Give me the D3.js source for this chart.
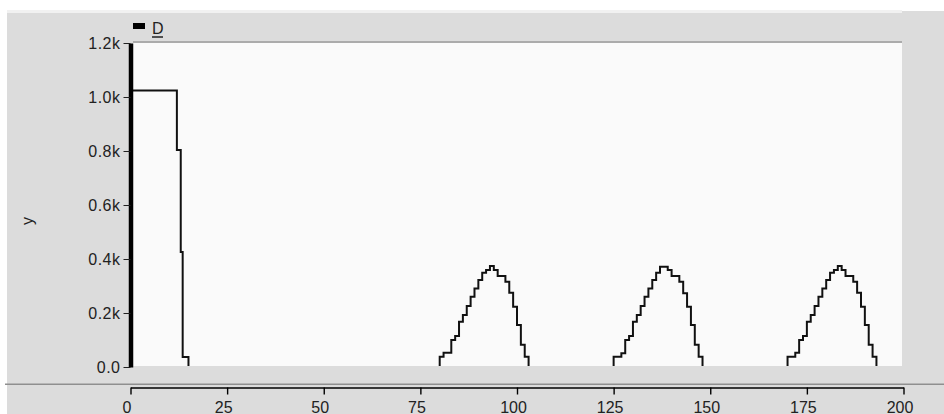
<!DOCTYPE html>
<html>
<head>
<meta charset="utf-8">
<script src="https://cdn.jsdelivr.net/npm/d3@7"></script>
<style>
  body { margin: 0; background: #fff; }
  svg { display: block; font-family: "Liberation Sans", Arial, sans-serif; }
</style>
</head>
<body>
<div class="chart"></div>
<script>
// start drop: step positions and levels
const dropX = [0, 12, 13, 13.5, 15];
const dropY = [1024, 804, 426, 37, 0];

// three humps, one value per unit step from their start
const humpStarts = [80, 125, 170];
const hump1 = [38, 53, 53, 100, 115, 168, 193, 226, 260, 291, 322, 349, 359, 374, 359, 337, 337, 316, 275, 223, 156, 82, 38];
const hump2 = [38, 38, 51, 100, 115, 168, 193, 226, 260, 291, 322, 349, 371, 371, 359, 337, 337, 316, 273, 223, 156, 82, 38];
const hump3 = [38, 38, 53, 100, 115, 168, 193, 226, 260, 291, 322, 349, 359, 374, 359, 337, 337, 316, 275, 223, 156, 82, 38];

const xTicks = [0, 25, 50, 75, 100, 125, 150, 175, 200];
const yTicks = [0, 200, 400, 600, 800, 1000, 1200];
const seriesName = 'D';

const W = 944, H = 414;
const plot = {left: 130.5, right: 903.5, top: 43, bottom: 367};

const svg = d3.select('.chart')
    .append('svg')
    .attr('width', W)
    .attr('height', H);

// window-ish panels
svg.append('rect')
    .attr('x', 7).attr('y', 11)
    .attr('width', W - 7).attr('height', H - 11)
    .attr('fill', '#dcdcdc');
svg.append('rect')
    .attr('x', 7).attr('y', 10)
    .attr('width', 895).attr('height', 3)
    .attr('fill', '#f1f1f1');
svg.append('rect')
    .attr('x', 133).attr('y', 41)
    .attr('width', 769).attr('height', 2)
    .attr('fill', '#ababab');
svg.append('rect')
    .attr('x', 133).attr('y', 43)
    .attr('width', 769).attr('height', 323)
    .attr('fill', '#fafafa');
svg.append('rect')
    .attr('x', 5).attr('y', 383.5)
    .attr('width', W - 5).attr('height', 1.5)
    .attr('fill', '#8f8f8f');

const xScale = d3.scaleLinear()
    .domain([0, 200])
    .range([plot.left, plot.right]);

const yScale = d3.scaleLinear()
    .domain([0, 1200])
    .range([plot.bottom, plot.top]);

// build the step points
let points = dropX.map((x, i) => [x, dropY[i]]);
[hump1, hump2, hump3].forEach((h, k) => {
    h.forEach((v, i) => points.push([humpStarts[k] + i, v]));
    points.push([humpStarts[k] + h.length, 0]);
});
points.push([200, 0]);

svg.append('clipPath')
    .attr('id', 'clip')
    .append('rect')
    .attr('x', plot.left).attr('y', plot.top)
    .attr('width', plot.right - plot.left).attr('height', 366 - plot.top);

const line = d3.line()
    .x(d => xScale(d[0]))
    .y(d => yScale(d[1]))
    .curve(d3.curveStepAfter);

svg.append('path')
    .datum(points)
    .attr('clip-path', 'url(#clip)')
    .attr('fill', 'none')
    .attr('stroke', '#111')
    .attr('stroke-width', 2)
    .attr('d', line);

// y axis
const y_axis = d3.axisLeft(yScale)
    .tickValues(yTicks)
    .tickSize(7)
    .tickSizeOuter(0)
    .tickPadding(3)
    .tickFormat(d => d === 0 ? '0.0' : (d / 1000).toFixed(1) + 'k');

const y_container = svg.append('g')
    .attr('transform', 'translate(' + plot.left + ',0)')
    .call(y_axis);
y_container.select('.domain')
    .attr('stroke', '#000')
    .attr('stroke-width', 4.5);
y_container.selectAll('.tick line').attr('stroke', '#222');
y_container.selectAll('.tick text')
    .attr('font-size', 16)
    .attr('fill', '#222')
    .attr('letter-spacing', 0.5)
    .attr('font-family', '"Liberation Sans", Arial, sans-serif');

// x axis
const x_axis = d3.axisBottom(xScale)
    .tickValues(xTicks)
    .tickSize(7)
    .tickSizeOuter(0)
    .tickPadding(7);

const x_container = svg.append('g')
    .attr('transform', 'translate(0,387.5)')
    .call(x_axis);
x_container.select('.domain')
    .attr('stroke', '#000')
    .attr('stroke-width', 1.6);
x_container.selectAll('.tick line')
    .attr('stroke', '#000')
    .attr('stroke-width', 1.4);
x_container.selectAll('.tick text')
    .attr('font-size', 16)
    .attr('fill', '#222')
    .attr('dx', -4)
    .attr('font-family', '"Liberation Sans", Arial, sans-serif');

// y title
svg.append('text')
    .attr('transform', 'translate(33,221) rotate(-90)')
    .attr('text-anchor', 'middle')
    .attr('font-size', 16)
    .attr('fill', '#222')
    .text('y');

// legend
svg.append('rect')
    .attr('x', 133).attr('y', 23)
    .attr('width', 12).attr('height', 6)
    .attr('fill', '#000');
svg.append('text')
    .attr('x', 152).attr('y', 33.5)
    .attr('font-size', 16)
    .attr('fill', '#222')
    .text(seriesName);
svg.append('line')
    .attr('x1', 152).attr('x2', 163)
    .attr('y1', 37).attr('y2', 37)
    .attr('stroke', '#222')
    .attr('stroke-width', 1.5);
</script>
</body>
</html>
